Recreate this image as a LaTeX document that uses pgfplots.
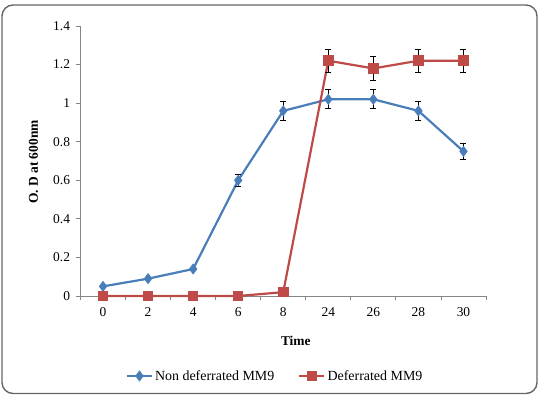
\documentclass[border=0pt]{standalone}
\usepackage{fontspec}
\setmainfont{Liberation Serif}
\usepackage{pgfplots}
\pgfplotsset{compat=1.18}
\definecolor{myblue}{HTML}{4A7EBB}
\definecolor{myred}{HTML}{BE4B48}
\definecolor{axgray}{HTML}{868686}
\begin{document}
\begin{tikzpicture}[x=1bp,y=1bp]
\useasboundingbox (-80.5,-99) rectangle (460.5,296);
\draw[draw=black!60, line width=1.4bp, rounded corners=11bp] (-78.5,-97.5) rectangle (456.5,291);
\begin{axis}[
  at={(0,0)}, anchor=south west,
  scale only axis, width=405.5bp, height=270bp,
  xmin=-0.5, xmax=8.5, ymin=0, ymax=1.4,
  axis x line*=bottom, axis y line*=left,
  axis line style={axgray, line width=0.8bp, -},
  xtick={0,1,2,3,4,5,6,7,8},
  xticklabels={0,2,4,6,8,24,26,28,30},
  minor xtick={-0.5,0.5,1.5,2.5,3.5,4.5,5.5,6.5,7.5,8.5},
  major x tick style={draw=none},
  minor x tick style={axgray, line width=0.8bp},
  ytick={0,0.2,0.4,0.6,0.8,1,1.2,1.4},
  yticklabels={0,0.2,0.4,0.6,0.8,1,1.2,1.4},
  y tick style={axgray, line width=0.8bp},
  tick align=outside, major tick length=4bp, minor tick length=4bp,
  tick label style={font=\fontsize{13.5}{15}\selectfont},
  xticklabel style={yshift=-4bp},
  yticklabel style={xshift=-3bp},
  xlabel={\bfseries Time},
  xlabel style={at={(axis description cs:0.531,-0.167)}, anchor=center, font=\fontsize{13.5}{15}\selectfont},
  ylabel={\bfseries O. D at 600nm},
  ylabel style={at={(axis description cs:-0.116,0.496)}, anchor=center, font=\fontsize{13.5}{15}\selectfont},
  legend style={at={(axis description cs:0.48,-0.296)}, anchor=center, draw=none, fill=none,
     font=\fontsize{14}{16}\selectfont, /tikz/every even column/.append style={column sep=22bp}},
  legend columns=2,
  legend image code/.code={\draw[mark repeat=2,mark phase=2] plot coordinates {(0bp,0bp) (12.5bp,0bp) (25bp,0bp)};},
  clip=false,
]
\addplot[myblue, line width=2.2bp, mark=diamond*, mark size=3.8bp,
  error bars/.cd, y dir=both, y explicit,
  error bar style={black, line width=0.9bp},
  error mark options={rotate=90, black, mark size=3bp, line width=0.9bp}]
  table[x=x, y=y, y error=e] {
x y e
0 0.05 0.005
1 0.09 0.005
2 0.14 0.008
3 0.60 0.03
4 0.96 0.05
5 1.02 0.05
6 1.02 0.05
7 0.96 0.05
8 0.75 0.04
};
\addlegendentry{Non deferrated MM9}
\addplot[myred, line width=2.2bp, mark=square*, mark size=4.2bp,
  error bars/.cd, y dir=both, y explicit,
  error bar style={black, line width=0.9bp},
  error mark options={rotate=90, black, mark size=3bp, line width=0.9bp}]
  table[x=x, y=y, y error=e] {
x y e
0 0.0 0.0
1 0.0 0.0
2 0.0 0.0
3 0.0 0.0
4 0.02 0.0
5 1.22 0.06
6 1.18 0.06
7 1.22 0.06
8 1.22 0.06
};
\addlegendentry{Deferrated MM9}
\end{axis}
\end{tikzpicture}
\end{document}
